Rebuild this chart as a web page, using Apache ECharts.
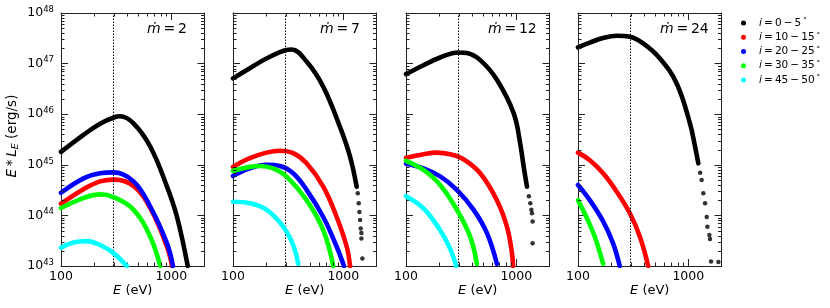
<!DOCTYPE html>
<html><head><meta charset="utf-8">
<script src="https://cdn.jsdelivr.net/npm/echarts@6/dist/echarts.min.js"></script>
<style>html,body{margin:0;padding:0;background:#fff}#c{width:830px;height:308px}</style>
</head><body><div id="c"></div>
<script>
// ---------- data ----------
const panelMdot = ['2', '7', '12', '24'];
const inclRanges = ['0\u2009−\u20095', '10\u2009−\u200915', '20\u2009−\u200925', '30\u2009−\u200935', '45\u2009−\u200950'];
const seriesNames = ['i = 0-5', 'i = 10-15', 'i = 20-25', 'i = 30-35', 'i = 45-50'];
const colors = ['#000000', '#ff0000', '#0000ff', '#00ff00', '#00ffff'];
const xTicks = [100, 1000];
const xTickLabels = ['100', '1000'];
const yTicks = [1e43, 1e44, 1e45, 1e46, 1e47, 1e48];
const yTickExp = ['43', '44', '45', '46', '47', '48'];
const xMinorTicks = [200, 300, 400, 500, 600, 700, 800, 900];
const yMinorTicks = [2e43, 3e43, 4e43, 5e43, 6e43, 7e43, 8e43, 9e43,
  2e44, 3e44, 4e44, 5e44, 6e44, 7e44, 8e44, 9e44,
  2e45, 3e45, 4e45, 5e45, 6e45, 7e45, 8e45, 9e45,
  2e46, 3e46, 4e46, 5e46, 6e46, 7e46, 8e46, 9e46,
  2e47, 3e47, 4e47, 5e47, 6e47, 7e47, 8e47, 9e47];
const vlineE = 300;
const xMin = 100, xMax = 2000, yMin = 1e43, yMax = 1e48;

// panel 1 : mdot = 2
const p1_i0 = [[100, 1.8e45], [160, 3.9e45], [226, 6.5e45], [305, 8.7e45], [344, 9.1e45], [454, 6.6e45], [644, 2.3e45], [914, 3.7e44], [1127, 9.3e43], [1409, 1.0e43]];
const p1_i10 = [[100, 1.7e44], [160, 3.3e44], [226, 4.7e44], [305, 5.1e44], [454, 3.8e44], [644, 1.4e44], [914, 2.4e43], [1014, 1.0e43]];
const p1_i20 = [[100, 2.8e44], [160, 5.4e44], [226, 6.8e44], [299, 7.1e44], [454, 4.7e44], [644, 1.5e44], [914, 2.8e43], [1035, 1.0e43]];
const p1_i30 = [[100, 1.4e44], [160, 2.2e44], [226, 2.6e44], [299, 2.3e44], [454, 1.3e44], [644, 3.8e43], [794, 1.0e43]];
const p1_i45 = [[100, 2.3e43], [129, 2.9e43], [171, 3.1e43], [226, 2.6e43], [299, 1.8e43], [395, 1.0e43]];
const p1_tail = [];

// panel 2 : mdot = 7
const p2_i0 = [[100, 5.1e46], [142, 8.1e46], [201, 1.26e47], [305, 1.86e47], [340, 1.9e47], [465, 1.1e47], [658, 3.5e46], [933, 5.6e45], [1151, 1.45e45], [1321, 3.7e44]];
const p2_i10 = [[100, 9.1e44], [142, 1.35e45], [201, 1.74e45], [266, 1.9e45], [351, 1.7e45], [465, 1.07e45], [658, 3.7e44], [871, 9.3e43], [1074, 2.4e43], [1151, 1.0e43]];
const p2_i20 = [[100, 6.0e44], [142, 8.5e44], [201, 1.0e45], [266, 9.5e44], [351, 6.8e44], [465, 3.2e44], [658, 9.3e43], [871, 2.4e43], [1014, 1.0e43]];
const p2_i30 = [[100, 7.6e44], [142, 9.1e44], [175, 9.5e44], [231, 8.5e44], [305, 5.9e44], [465, 2.0e44], [658, 5.1e43], [811, 1.0e43]];
const p2_i45 = [[100, 1.86e44], [142, 1.74e44], [201, 1.3e44], [285, 6.0e43], [351, 2.6e43], [390, 1.1e43]];
const p2_tail = [[1352, 2.75e44], [1380, 1.74e44], [1400, 1.17e44], [1419, 8.1e43], [1439, 5.5e43], [1459, 4.5e43], [1459, 3.5e43], [1489, 1.4e43]];

// panel 3 : mdot = 12
const p3_i0 = [[100, 6.2e46], [144, 9.3e46], [204, 1.32e47], [299, 1.66e47], [356, 1.62e47], [471, 1.17e47], [667, 4.8e46], [946, 1.05e46], [1086, 2.6e45], [1167, 9.1e44], [1250, 3.7e44]];
const p3_i10 = [[100, 1.38e45], [144, 1.62e45], [190, 1.74e45], [251, 1.62e45], [332, 1.29e45], [471, 6.8e44], [667, 2.0e44], [822, 6.0e43], [914, 1.8e43], [933, 1.0e43]];
const p3_i20 = [[100, 1.05e45], [144, 8.5e44], [204, 5.9e44], [289, 3.2e44], [409, 1.3e44], [541, 4.5e43], [667, 1.1e43]];
const p3_i30 = [[100, 1.2e45], [144, 7.9e44], [204, 4.0e44], [289, 1.3e44], [382, 3.8e43], [439, 1.1e43]];
const p3_i45 = [[100, 2.4e44], [144, 1.38e44], [204, 5.1e43], [251, 2.2e43], [285, 1.0e43]];
const p3_tail = [[1300, 2.4e44], [1340, 1.74e44], [1370, 1.3e44], [1387, 1.1e44], [1406, 7.6e43], [1406, 2.8e43]];

// panel 4 : mdot = 24
const p4_i0 = [[100, 2.1e47], [128, 2.6e47], [169, 3.2e47], [223, 3.55e47], [295, 3.4e47], [390, 2.5e47], [553, 1.26e47], [783, 4.1e46], [1035, 6.6e45], [1151, 2.3e45], [1233, 1.07e45]];
const p4_i10 = [[100, 1.74e45], [128, 1.23e45], [169, 6.8e44], [223, 3.0e44], [295, 1.1e44], [364, 3.8e43], [433, 1.0e43]];
const p4_i20 = [[100, 4.0e44], [128, 2.0e44], [169, 7.6e43], [208, 2.8e43], [239, 1.0e43]];
const p4_i30 = [[100, 2.0e44], [119, 9.3e43], [142, 3.8e43], [169, 1.1e43]];
const p4_i45 = [];
const p4_tail = [[1280, 7.0e44], [1321, 5.0e44], [1368, 2.75e44], [1419, 1.74e44], [1469, 9.3e43], [1489, 6.0e43], [1552, 4.1e43], [1574, 3.4e43], [1607, 1.23e43], [1875, 1.2e43]];

const panels = [
  [p1_i0, p1_i10, p1_i20, p1_i30, p1_i45, p1_tail],
  [p2_i0, p2_i10, p2_i20, p2_i30, p2_i45, p2_tail],
  [p3_i0, p3_i10, p3_i20, p3_i30, p3_i45, p3_tail],
  [p4_i0, p4_i10, p4_i20, p4_i30, p4_i45, p4_tail]
];

// ---------- layout ----------
const FONT = 'DejaVu Sans';
const frameColor = '#222';
const gridLefts = [61, 233, 406, 578];
const mdotLefts = [147, 320, 488, 660];
const grids = gridLefts.map(l => ({ left: l, top: 13, width: 143.5, height: 253 }));

const xAxes = [], yAxes = [], series = [], graphics = [];

function xLabel(v) {
  for (let k = 0; k < xTicks.length; k++) if (Math.abs(v - xTicks[k]) / xTicks[k] < 1e-6) return xTickLabels[k];
  return '';
}
function yLabel(v) {
  for (let k = 0; k < yTicks.length; k++) if (Math.abs(v - yTicks[k]) / yTicks[k] < 1e-6) return '{b|10}{s|' + yTickExp[k] + '}';
  return '';
}

for (let g = 0; g < 4; g++) {
  const common = {
    type: 'log', logBase: 10, gridIndex: g,
    axisLine: { show: true, lineStyle: { color: frameColor, width: 1 } },
    axisTick: { show: true, inside: true, length: 7, lineStyle: { color: frameColor, width: 1 } },
    splitLine: { show: false }, minorTick: { show: false }
  };
  xAxes.push(Object.assign({}, common, {
    min: xMin, max: xMax, position: 'bottom',
    axisLabel: { show: true, formatter: xLabel, margin: 4, fontSize: 12.5, color: '#000', fontFamily: FONT, showMaxLabel: false },
    name: '{e|E}{t| (eV)}', nameLocation: 'middle', nameGap: 18, nameMoveOverlap: false,
    nameTextStyle: { verticalAlign: 'top', rich: {
      e: { fontFamily: FONT, fontStyle: 'italic', fontSize: 13, color: '#000' },
      t: { fontFamily: FONT, fontSize: 13, color: '#000' } } }
  }));
  xAxes.push(Object.assign({}, common, {
    min: xMin, max: xMax, position: 'top', axisLabel: { show: false }
  }));
  const yl = Object.assign({}, common, {
    min: yMin, max: yMax, position: 'left',
    axisLabel: { show: g === 0, formatter: yLabel, margin: 7, color: '#000', rich: {
      b: { fontFamily: FONT, fontSize: 12.5, lineHeight: 16, color: '#000' },
      s: { fontFamily: FONT, fontSize: 8.5, lineHeight: 8, verticalAlign: 'top', color: '#000' } } }
  });
  if (g === 0) {
    yl.name = '{e|E}{t|\u2009*\u2009}{e|L}{sub|E}{t| (erg/s)}';
    yl.nameLocation = 'middle';
    yl.nameGap = 40;
    yl.nameRotate = 90;
    yl.nameMoveOverlap = false;
    yl.nameTextStyle = { padding: [0, 0, 0, 7], rich: {
      e: { fontFamily: FONT, fontStyle: 'italic', fontSize: 13.5, lineHeight: 18, color: '#000' },
      t: { fontFamily: FONT, fontSize: 13.5, lineHeight: 18, color: '#000' },
      sub: { fontFamily: FONT, fontStyle: 'italic', fontSize: 9.5, lineHeight: 10, verticalAlign: 'bottom', color: '#000' } } };
  }
  yAxes.push(yl);
  yAxes.push(Object.assign({}, common, { min: yMin, max: yMax, position: 'right', axisLabel: { show: false } }));

  const xi = 2 * g, yi = 2 * g;
  const data = panels[g];
  for (let s = 0; s < 5; s++) {
    if (!data[s].length) continue;
    const ser = {
      type: 'line', name: seriesNames[s], xAxisIndex: xi, yAxisIndex: yi,
      data: data[s], showSymbol: false, symbol: 'circle', smooth: 0.4, clip: true,
      lineStyle: { color: colors[s], width: 4.6, cap: 'round', join: 'round' },
      itemStyle: { color: colors[s] }, z: 2 + (s === 0 ? 0 : s), animation: false, silent: true
    };
    if (s === 0) {
      ser.markLine = {
        silent: true, symbol: ['none', 'none'], label: { show: false }, animation: false,
        lineStyle: { type: [1.5, 1.5], color: '#000', width: 1 },
        data: [{ xAxis: vlineE }]
      };
    }
    series.push(ser);
  }
  if (data[5].length) {
    series.push({
      type: 'scatter', name: seriesNames[0], xAxisIndex: xi, yAxisIndex: yi,
      data: data[5], symbol: 'circle', symbolSize: 4.5, itemStyle: { color: colors[0] },
      clip: true, silent: true, animation: false, z: 2
    });
  }
  series.push({
    type: 'custom', name: '_mx' + g, xAxisIndex: xi, yAxisIndex: yi, silent: true, clip: false, z: 6, animation: false,
    data: xMinorTicks.map(v => [v, yMin]),
    renderItem: (params, api) => {
      const cs = params.coordSys;
      const x = Math.round(api.coord([api.value(0), yMin])[0]) + 0.5;
      return { type: 'group', children: [
        { type: 'line', shape: { x1: x, y1: cs.y + cs.height, x2: x, y2: cs.y + cs.height - 3.5 }, style: { stroke: frameColor, lineWidth: 1 } },
        { type: 'line', shape: { x1: x, y1: cs.y, x2: x, y2: cs.y + 3.5 }, style: { stroke: frameColor, lineWidth: 1 } }
      ] };
    }
  });
  series.push({
    type: 'custom', name: '_my' + g, xAxisIndex: xi, yAxisIndex: yi, silent: true, clip: false, z: 6, animation: false,
    data: yMinorTicks.map(v => [xMin, v]),
    renderItem: (params, api) => {
      const cs = params.coordSys;
      const y = Math.round(api.coord([xMin, api.value(1)])[1]) + 0.5;
      return { type: 'group', children: [
        { type: 'line', shape: { x1: cs.x, y1: y, x2: cs.x + 3.5, y2: y }, style: { stroke: frameColor, lineWidth: 1 } },
        { type: 'line', shape: { x1: cs.x + cs.width, y1: y, x2: cs.x + cs.width - 3.5, y2: y }, style: { stroke: frameColor, lineWidth: 1 } }
      ] };
    }
  });
  graphics.push({
    type: 'text', left: mdotLefts[g], top: 22, silent: true,
    style: { text: '{m|ṁ}{t|\u2009=\u2009' + panelMdot[g] + '}', rich: {
      m: { fontFamily: FONT, fontStyle: 'italic', fontSize: 14, color: '#000' },
      t: { fontFamily: FONT, fontSize: 14, color: '#000' } } }
  });
}

const chart = echarts.init(document.getElementById('c'), null, { renderer: 'canvas' });
chart.setOption({
  animation: false,
  backgroundColor: '#fff',
  grid: grids,
  xAxis: xAxes,
  yAxis: yAxes,
  legend: {
    data: seriesNames, orient: 'vertical', left: 736, top: 12,
    icon: 'circle', itemWidth: 5, itemHeight: 5, itemGap: 2.75, selectedMode: false,
    formatter: name => '{i|i}{t|\u2009=\u2009' + inclRanges[seriesNames.indexOf(name)] + '}{d|°}',
    textStyle: { rich: {
      i: { fontFamily: FONT, fontStyle: 'italic', fontSize: 10.5, lineHeight: 12, padding: [0, 0, 0, 8], color: '#000' },
      t: { fontFamily: FONT, fontSize: 10.5, lineHeight: 12, color: '#000' },
      d: { fontFamily: FONT, fontSize: 7, lineHeight: 7, verticalAlign: 'top', padding: [0, 0, 0, 2], color: '#000' } } }
  },
  graphic: graphics,
  series: series
});
</script></body></html>
